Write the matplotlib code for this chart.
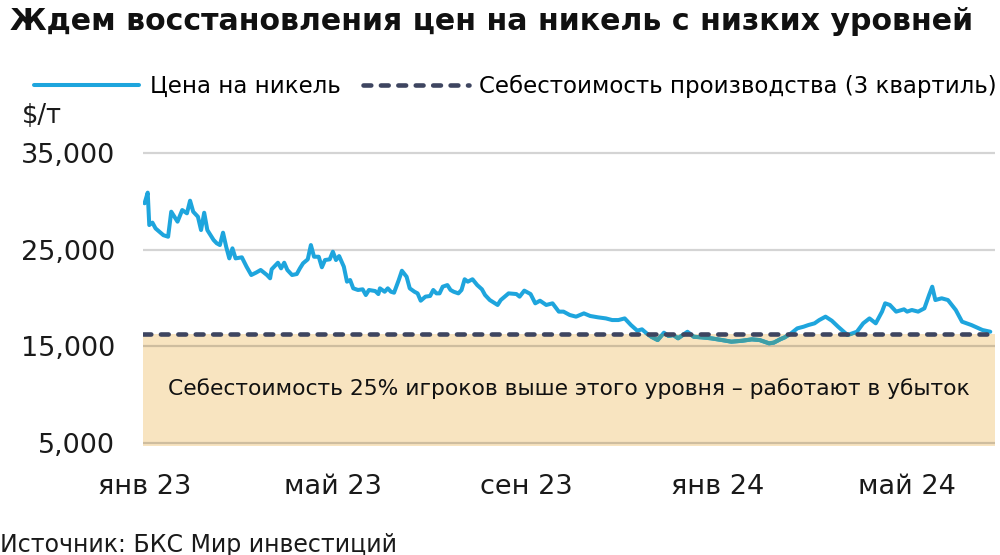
import pandas as pd
import matplotlib
matplotlib.use("Agg")
import matplotlib.pyplot as plt
import matplotlib.dates as mdates
from matplotlib.patches import Rectangle

plt.rcParams['font.family'] = ['DejaVu Sans']

# Nickel price: days since 2023-01-01 and $/t
days = [0, 2, 3, 5, 7, 12, 15, 17, 19, 21, 24, 27, 29, 31, 34, 36, 38, 40, 44, 46,
        48, 50, 52, 54, 56, 58, 62, 65, 68, 71, 74, 78, 80, 81, 85, 87, 89, 91, 94, 97,
        99, 101, 104, 106, 108, 111, 113, 115, 118, 120, 122, 124, 127, 129, 131, 133, 136, 139, 141, 143,
        147, 149, 150, 153, 155, 157, 159, 162, 164, 167, 169, 172, 174, 176, 179, 182, 184, 186, 188, 190,
        193, 195, 197, 200, 202, 204, 206, 209, 212, 215, 217, 220, 225, 227, 232, 237, 239, 242, 246, 249,
        252, 256, 260, 264, 267, 271, 275, 280, 284, 289, 294, 298, 302, 306, 310, 314, 317, 320, 323, 327,
        331, 334, 337, 340, 346, 350, 355, 361, 368, 374, 381, 387, 392, 398, 401, 405, 408, 412, 416, 420,
        423, 427, 430, 434, 438, 442, 448, 454, 458, 462, 466, 470, 472, 475, 479, 484, 486, 489, 493, 497,
        500, 502, 504, 508, 512, 517, 521, 527, 534, 539]
price = [29800, 30900, 27550, 27800, 27200, 26500, 26340, 28930, 28410, 27900, 29100, 28760, 30070, 28930, 28410, 27030, 28820, 27030, 26000, 25660,
         25480, 26760, 25310, 24100, 25140, 24100, 24210, 23240, 22380, 22620, 22900, 22380, 22040, 22970, 23650, 23070, 23650, 22900, 22380, 22480,
         23070, 23590, 24000, 25480, 24270, 24270, 23180, 23930, 24000, 24790, 23930, 24340, 23240, 21690, 21860, 21000, 20830, 20900, 20310, 20830,
         20720, 20410, 21000, 20650, 21000, 20650, 20550, 21860, 22820, 22200, 21000, 20650, 20480, 19720, 20140, 20210, 20830, 20480, 20480, 21170,
         21340, 20830, 20650, 20480, 20830, 21940, 21690, 21940, 21340, 20900, 20310, 19790, 19280, 19790, 20480, 20410, 20140, 20760, 20410, 19450,
         19720, 19280, 19450, 18590, 18590, 18240, 18070, 18410, 18140, 18000, 17890, 17720, 17720, 17890, 17200, 16620, 16760, 16340, 15990, 15650,
         16410, 16070, 16170, 15830, 16510, 15990, 15930, 15830, 15650, 15480, 15580, 15720, 15650, 15310, 15380, 15720, 15930, 16340, 16860, 17030,
         17200, 17380, 17720, 18070, 17650, 17030, 16170, 16510, 17380, 17890, 17380, 18590, 19450, 19280, 18590, 18830, 18590, 18760, 18590, 18930,
         20310, 21170, 19790, 19970, 19790, 18760, 17550, 17200, 16690, 16510]

cost_level = 16300      # 3rd quartile production cost
shade_bottom = 4700

yticks = [5000, 15000, 25000, 35000]
ytick_labels = ['5,000', '15,000', '25,000', '35,000']
xtick_dates = ['2023-01-01', '2023-05-01', '2023-09-01', '2024-01-01', '2024-05-01']
xtick_labels = ['янв 23', 'май 23', 'сен 23', 'янв 24', 'май 24']

dates = pd.Timestamp('2023-01-01') + pd.to_timedelta(days, unit='D')
x_start = pd.Timestamp('2022-12-31')
x_end = pd.Timestamp('2024-06-26')

blue = '#1ea5dd'
teal = '#3f9fa6'
navy = '#3e4560'
sand = '#f8e4c0'

fig = plt.figure(figsize=(10, 5.55), dpi=100)
ax = fig.add_axes([0.143, 0.1966, 0.852, 0.5329])

# sand area below the cost level
ax.fill_between([x_start, x_end], shade_bottom, cost_level, color=sand, lw=0, zorder=1)

ax.plot(dates, price, color=blue, lw=2.9, solid_joinstyle='round', solid_capstyle='round',
        zorder=3, label='Цена на никель')
# part of the price under the cost level looks darker (seen through the sand area)
under, = ax.plot(dates, price, color=teal, lw=2.9, solid_joinstyle='round', zorder=4)
clip = Rectangle((mdates.date2num(x_start), shade_bottom),
                 mdates.date2num(x_end) - mdates.date2num(x_start), cost_level - shade_bottom,
                 transform=ax.transData)
under.set_clip_path(clip)

ax.axhline(cost_level, color=navy, lw=3.3, linestyle=(0, (1.7, 2.1)), dash_capstyle='round',
           zorder=5, label='Себестоимость производства (3 квартиль)')

for yv in yticks:
    ax.axhline(yv, color='black', alpha=0.17, lw=1.6, zorder=2)

ax.set_xlim(x_start, x_end)
ax.set_ylim(shade_bottom, 35300)
ax.set_yticks(yticks)
ax.set_yticklabels(ytick_labels)
ax.set_xticks(pd.to_datetime(xtick_dates))
ax.set_xticklabels(xtick_labels)
ax.tick_params(axis='both', length=0, labelsize=19.5, colors='#1a1a1a')
ax.tick_params(axis='y', pad=20)
ax.tick_params(axis='x', pad=20)
for s in ax.spines.values():
    s.set_visible(False)

ax.text(0.5, 0.193, 'Себестоимость 25% игроков выше этого уровня – работают в убыток',
        transform=ax.transAxes, ha='center', va='center', fontsize=15.7, color='#111111', zorder=6)

fig.text(0.01, 1 - 21 / 555, 'Ждем восстановления цен на никель с низких уровней',
         fontsize=21.6, fontweight='bold', ha='left', va='center', color='#111111')
fig.text(0.022, 1 - 116 / 555, '$/т', fontsize=18.5, ha='left', va='center', color='#1a1a1a')
fig.text(0.0, 1 - 545 / 555, 'Источник: БКС Мир инвестиций', fontsize=17, ha='left', va='center',
         color='#1a1a1a')

fig.legend(loc='center left', bbox_to_anchor=(0.034, 1 - 86 / 555), ncol=2, frameon=False,
           fontsize=16.5, handlelength=4.6, handletextpad=0.45, columnspacing=1.0, borderaxespad=0,
           borderpad=0)

fig.savefig('out.png', dpi=100)
